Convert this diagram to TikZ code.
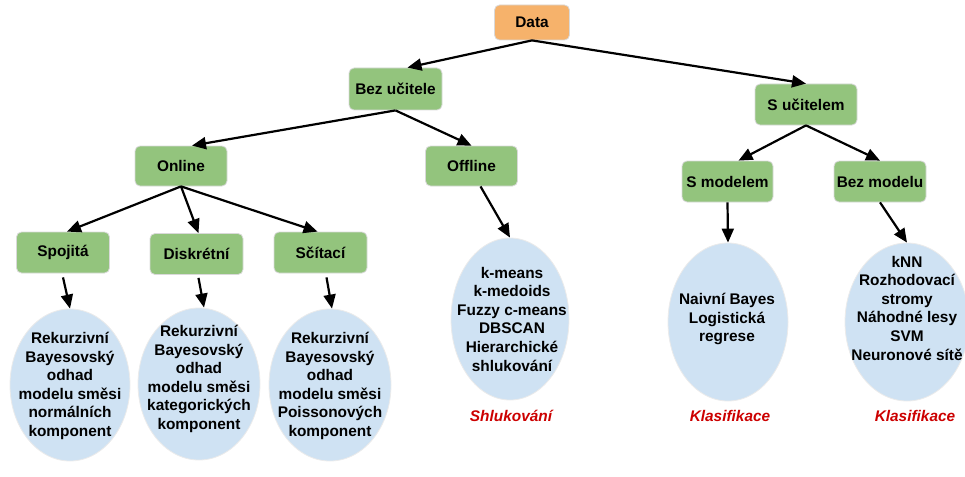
\documentclass[tikz,border=0pt]{standalone}
\usepackage{fontspec}
\setmainfont{Liberation Sans}
\usetikzlibrary{arrows.meta,shapes.geometric}
\definecolor{boxgreen}{HTML}{93C47D}
\definecolor{dataorange}{HTML}{F6B26B}
\definecolor{ellblue}{HTML}{CFE2F3}
\definecolor{redlab}{HTML}{CC0000}
\begin{document}
\begin{tikzpicture}[x=1pt,y=-1pt,
  box/.style={rectangle,rounded corners=5pt,fill=boxgreen,draw=black!15,line width=0.8pt,minimum height=41pt,minimum width=92pt,inner sep=0pt,font=\fontsize{15.4}{18}\selectfont\bfseries},
  ell/.style={ellipse,fill=ellblue,draw=black!8,line width=0.8pt,inner sep=0pt},
  etext/.style={align=center,font=\fontsize{15.4}{18.6}\selectfont\bfseries,inner sep=0pt},
  lab/.style={font=\fontsize{15.4}{18}\selectfont\bfseries\itshape,text=redlab},
  arr/.style={line width=2.2pt,-{Triangle[length=14pt,width=12pt]}}]
\useasboundingbox (0,0) rectangle (965,476);
% boxes
\node[box,fill=dataorange,minimum width=75pt,minimum height=35pt] (data) at (532,22.5) {Data};
\node[box,minimum width=93pt,minimum height=42pt] (bez) at (395.5,89) {Bez učitele};
\node[box,minimum width=102pt] (suc) at (806,104.5) {S učitelem};
\node[box,minimum height=40pt] (online) at (181,166) {Online};
\node[box,minimum height=40pt] (offline) at (471.5,166) {Offline};
\node[box,minimum width=91pt] (smod) at (727.5,181.5) {S modelem};
\node[box] (bmod) at (880,181.5) {Bez modelu};
\node[box,minimum width=93pt] (spoj) at (63,252.5) {Spojitá};
\node[box,minimum width=93pt] (disk) at (196.5,254) {Diskrétní};
\node[box,minimum width=93pt] (scit) at (320.5,252.5) {Sčítací};
% ellipses
\node[ell,minimum width=120pt,minimum height=152pt] (e1) at (70,385) {};
\node[ell,minimum width=122pt,minimum height=152pt] (e2) at (199,384) {};
\node[ell,minimum width=122pt,minimum height=152pt] (e3) at (330,385) {};
\node[ell,minimum width=118pt,minimum height=162pt] (e4) at (510,319) {};
\node[ell,minimum width=120pt,minimum height=158pt] (e5) at (728,322) {};
\node[ell,minimum width=124pt,minimum height=158pt] (e6) at (907,322) {};
% ellipse texts
\node[etext] (t1) at (70,386) {Rekurzivní\\Bayesovský\\odhad\\modelu směsi\\normálních\\komponent};
\node[etext] (t2) at (199,379) {Rekurzivní\\Bayesovský\\odhad\\modelu směsi\\kategorických\\komponent};
\node[etext] (t3) at (330,386) {Rekurzivní\\Bayesovský\\odhad\\modelu směsi\\Poissonových\\komponent};
\node[etext] (t4) at (512,319) {k-means\\k-medoids\\Fuzzy c-means\\DBSCAN\\Hierarchické\\shlukování};
\node[etext] (t5) at (727,319) {Naivní Bayes\\Logistická\\regrese};
\node[etext] (t6) at (907,308) {kNN\\Rozhodovací\\stromy\\Náhodné lesy\\SVM\\Neuronové sítě};
% labels
\node[lab] (l1) at (511,416) {Shlukování};
\node[lab] (l2) at (730,416) {Klasifikace};
\node[lab] (l3) at (915,416) {Klasifikace};
% arrows
\draw[arr] (data.south) -- ([xshift=12pt]bez.north);
\draw[arr] (data.south) -- (suc.north);
\draw[arr] (bez.south) -- ([xshift=11pt]online.north);
\draw[arr] (bez.south) -- (offline.north);
\draw[arr] (suc.south) -- ([xshift=11pt]smod.north);
\draw[arr] (suc.south) -- (bmod.north);
\draw[arr] (online.south) -- ([xshift=4pt]spoj.north);
\draw[arr] (online.south) -- ([xshift=2pt]disk.north);
\draw[arr] (online.south) -- ([xshift=-3pt]scit.north);
\draw[arr] ([yshift=-4pt]spoj.south) -- (e1.north);
\draw[arr] ([xshift=2pt,yshift=-3pt]disk.south) -- ([xshift=5pt]e2.north);
\draw[arr] ([xshift=6pt,yshift=-4pt]scit.south) -- ([xshift=2pt]e3.north);
\draw[arr] ([xshift=9pt]offline.south) -- (e4.north);
\draw[arr] (smod.south) -- (e5.north);
\draw[arr] (bmod.south) -- (e6.north);
\end{tikzpicture}
\end{document}
